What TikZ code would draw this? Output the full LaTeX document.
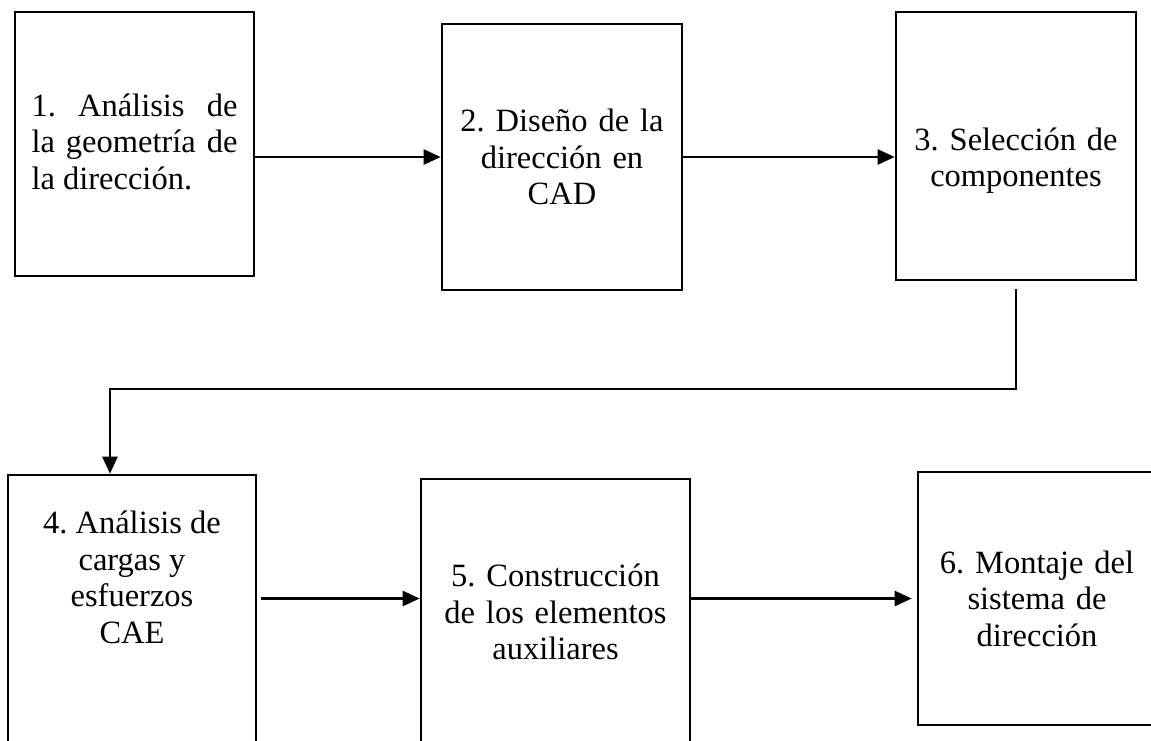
\documentclass[tikz,border=0pt]{standalone}
\usepackage{fontspec}
\setmainfont{Liberation Serif}
\frenchspacing
\usetikzlibrary{arrows.meta}
\newcommand{\soporte}{\rule[-9.5pt]{0pt}{36pt}}

\begin{document}
\begin{tikzpicture}[x = 1pt, y = -1pt,
	texto/.style = {align = center, inner sep = 0pt, font = \fontsize{32.5}{36.5}\selectfont},
	caja/.style = {texto, draw, line width = 2.6pt, text width = 225pt},
	flecha/.style = {line width = 2.4pt, -{Triangle[length = 17pt, width = 15pt]}}]
	\useasboundingbox (0,0) rectangle (1151,740);
	\clip (0,0) rectangle (1151,740);
	% primera fila
	\node [caja, align = justify, text width = 206pt, minimum width = 239pt, minimum height = 264pt] (p1) at (134.5,144) {\soporte 1. Análisis de\linebreak \soporte la geometría de\linebreak \soporte la dirección.};
	\node [caja, minimum width = 240pt, minimum height = 266pt] (p2) at (562,157) {2. Diseño de la\\dirección en\\CAD};
	\node [caja, minimum width = 240pt, minimum height = 268pt, text depth = 14pt] (p3) at (1016,146) {3. Selección de\\componentes};
	% segunda fila
	\node [caja, minimum width = 248pt, minimum height = 300pt] (p4) at (132,625) {};
	\node [texto, anchor = north] (t4) at (132,511) {4. Análisis de\\cargas y\\esfuerzos\\CAE};
	\node [caja, minimum width = 269pt, minimum height = 266pt] (p5) at (555.5,612) {5. Construcción\\de los elementos\\auxiliares};
	\node [caja, minimum width = 238pt, minimum height = 253pt] (p6) at (1037,598.5) {6. Montaje del\\sistema de\\dirección};
	\coordinate (codo) at (110,389);
	% flechas
	\draw [flecha] (p1.east |- p2.west) -- (p2.west);
	\draw [flecha] (p2.east) -- (p2.east -| p3.west);
	\draw [flecha, shorten <= 8pt] (p3.south) |- (codo) -- (codo |- p4.north);
	\draw [flecha, shorten <= 4pt] (p4.east |- p6.west) -- (p5.west |- p6.west);
	\draw [flecha, shorten >= 5pt] (p5.east |- p6.west) -- (p6.west);
\end{tikzpicture}
\end{document}
